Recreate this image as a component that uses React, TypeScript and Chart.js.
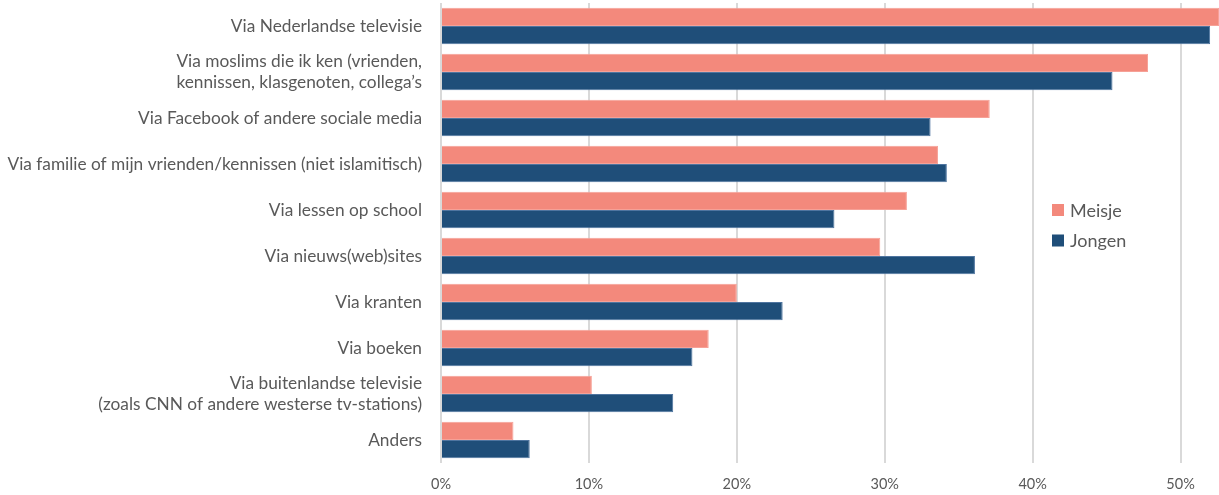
import React, { useEffect, useRef } from "react";
import { Chart, registerables } from "chart.js";

Chart.register(...registerables);

const categories: (string | string[])[] = [
  "Via Nederlandse televisie",
  ["Via moslims die ik ken (vrienden,", "kennissen, klasgenoten, collega’s"],
  "Via Facebook of andere sociale media",
  "Via familie of mijn vrienden/kennissen (niet islamitisch)",
  "Via lessen op school",
  "Via nieuws(web)sites",
  "Via kranten",
  "Via boeken",
  ["Via buitenlandse televisie", "(zoals CNN of andere westerse tv-stations)"],
  "Anders",
];
const meisje = [52.6, 47.8, 37.1, 33.6, 31.5, 29.7, 20.0, 18.1, 10.2, 4.9];
const jongen = [52.0, 45.4, 33.1, 34.2, 26.6, 36.1, 23.1, 17.0, 15.7, 6.0];
const seriesNames = ["Meisje", "Jongen"];
const seriesColors = ["#F3897C", "#1F4E79"];
const borderColors = ["#F6A197", "#4F75A0"];

const FONT = "Lato, 'Open Sans', sans-serif";
const TEXT = "#595959";

const legendPlugin = {
  id: "insideLegend",
  afterDraw(chart: any) {
    const ctx = chart.ctx;
    ctx.save();
    ctx.font = `18px ${FONT}`;
    ctx.textBaseline = "middle";
    ctx.textAlign = "left";
    const x = 1052;
    const ys = [210, 240.5];
    seriesNames.forEach((name, i) => {
      ctx.fillStyle = seriesColors[i];
      ctx.fillRect(x, ys[i] - 6, 12, 12);
      ctx.fillStyle = TEXT;
      ctx.fillText(name, x + 18, ys[i] + 1);
    });
    ctx.restore();
  },
};

export default function App() {
  const ref = useRef<HTMLCanvasElement | null>(null);
  useEffect(() => {
    document.body.style.margin = "0";
    const canvas = ref.current!;
    const chart = new Chart(canvas, {
      type: "bar",
      data: {
        labels: categories,
        datasets: seriesNames.map((name, i) => ({
          label: name,
          data: i === 0 ? meisje : jongen,
          backgroundColor: seriesColors[i],
          borderColor: borderColors[i],
          borderWidth: 1,
          barPercentage: 1.0,
          categoryPercentage: 0.795,
        })),
      },
      options: {
        indexAxis: "y",
        responsive: false,
        animation: false,
        devicePixelRatio: 1,
        layout: { padding: { top: 3, right: 0, left: 0, bottom: 0 } },
        plugins: {
          legend: { display: false },
          tooltip: { enabled: false },
        },
        scales: {
          x: {
            min: 0,
            max: 52.6,
            ticks: {
              stepSize: 10,
              includeBounds: false,
              callback: (v: any) => `${v}%`,
              color: TEXT,
              font: { family: FONT, size: 14.5 },
              padding: 13,
              maxRotation: 0,
            },
            grid: { color: "#D9D9D9", lineWidth: 2, drawTicks: false },
            border: { display: false },
            afterFit: (s: any) => {
              s.height = 32;
              s.paddingLeft = 0;
              s.paddingRight = 0;
            },
          },
          y: {
            ticks: {
              color: TEXT,
              font: { family: FONT, size: 17.3, lineHeight: 1.2 },
              padding: 19,
              autoSkip: false,
            },
            grid: { display: false, drawTicks: false },
            border: { display: false },
            afterFit: (s: any) => {
              s.width = 441;
              s.paddingTop = 0;
              s.paddingBottom = 0;
            },
          },
        },
      },
      plugins: [legendPlugin],
    });
    return () => chart.destroy();
  }, []);
  return (
    <div style={{ width: 1219, height: 495, background: "#fff" }}>
      <canvas ref={ref} width={1219} height={495} style={{ display: "block" }} />
    </div>
  );
}
